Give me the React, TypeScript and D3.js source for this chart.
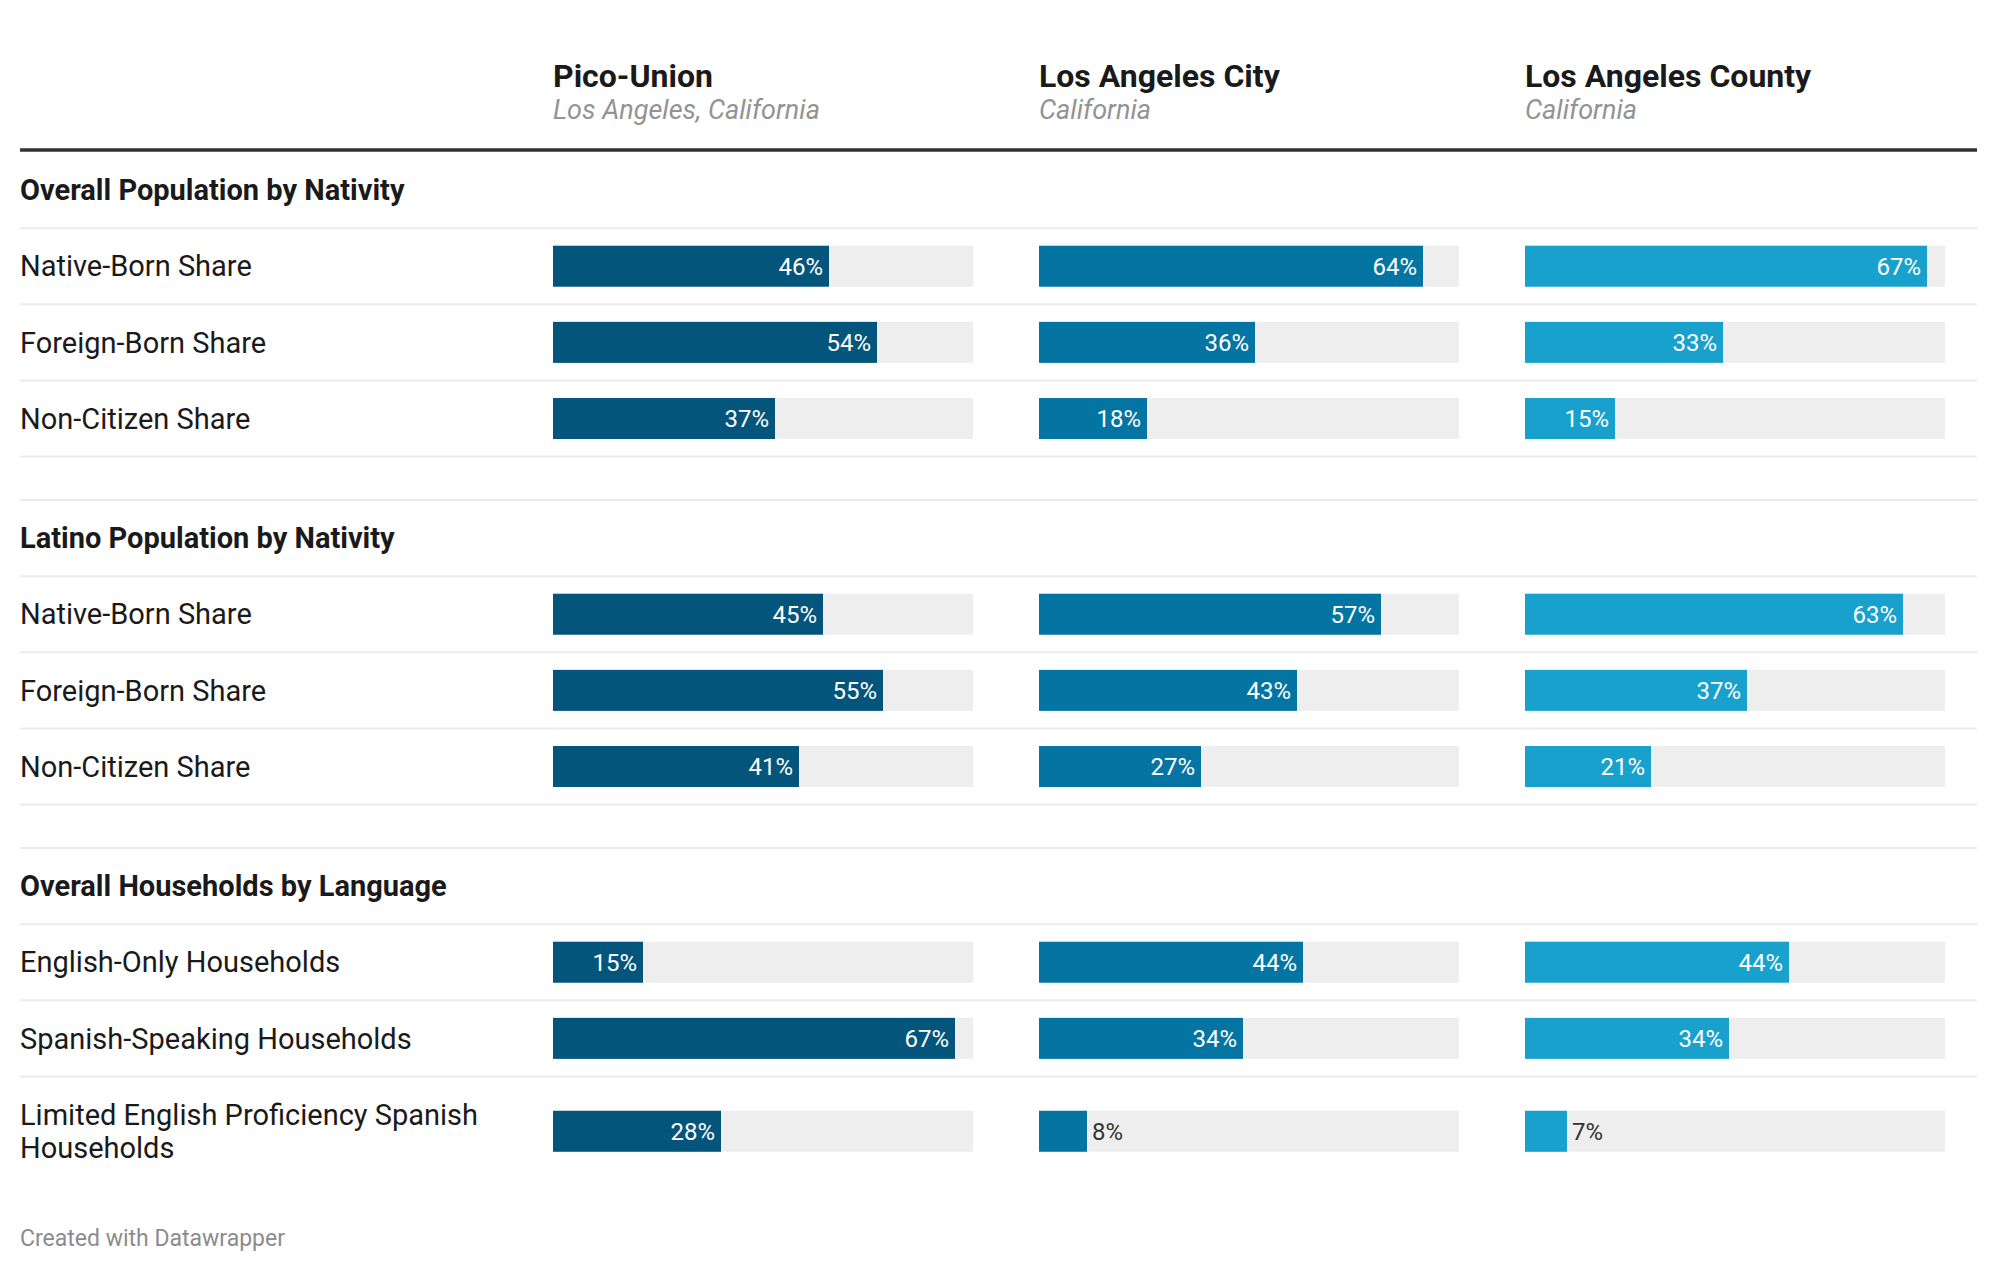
import React from 'react';
import * as d3 from 'd3';

// columns (places)
const places = ["Pico-Union", "Los Angeles City", "Los Angeles County"];
const placeSubtitles = ["Los Angeles, California", "California", "California"];
const placeColors = ["#03557c", "#0475a2", "#19a1cd"];

// row groups
const sections = [
  "Overall Population by Nativity",
  "Latino Population by Nativity",
  "Overall Households by Language",
];
const sectionRows = [
  ["Native-Born Share", "Foreign-Born Share", "Non-Citizen Share"],
  ["Native-Born Share", "Foreign-Born Share", "Non-Citizen Share"],
  ["English-Only Households", "Spanish-Speaking Households", "Limited English Proficiency Spanish Households"],
];

// values in %, one array per place, rows in order
const picoUnion = [46, 54, 37, 45, 55, 41, 15, 67, 28];
const laCity = [64, 36, 18, 57, 43, 27, 44, 34, 8];
const laCounty = [67, 33, 15, 63, 37, 21, 44, 34, 7];
const values = [picoUnion, laCity, laCounty];

const W = 1999, H = 1274;
const left = 20, right = 1977;
const FONT = "Roboto, 'Noto Sans', sans-serif";

// crude word wrap for long row labels
function wrap(label: string, maxChars: number) {
  const words = label.split(" ");
  const lines: string[] = [];
  let cur = "";
  words.forEach(w => {
    if ((cur + " " + w).trim().length > maxChars && cur) {
      lines.push(cur);
      cur = w;
    } else cur = (cur + " " + w).trim();
  });
  if (cur) lines.push(cur);
  return lines;
}

export default function App() {
  const colX = d3.scaleBand<string>().domain(places).range([553, 1945]).paddingInner(0.1358).paddingOuter(0);
  const bw = colX.bandwidth();
  const x = d3.scaleLinear().domain([0, 70]).range([0, bw]);

  const headerLineY = 150;
  const titleH = 76.15, rowH = 76.15, spacer = 43.4, lineGap = 33.5, barH = 41;

  // layout rows
  type Item = { kind: 'title' | 'row'; y0: number; y1: number; text: string; idx?: number; last?: boolean };
  const items: Item[] = [];
  let y = 152;
  let k = 0;
  sections.forEach((s, si) => {
    items.push({ kind: 'title', y0: y, y1: y + titleH, text: s });
    y += titleH;
    sectionRows[si].forEach((r, ri) => {
      const lines = wrap(r, 36);
      const h = rowH + (lines.length - 1) * lineGap;
      items.push({ kind: 'row', y0: y, y1: y + h, text: r, idx: k, last: si === sections.length - 1 && ri === sectionRows[si].length - 1 });
      y += h;
      k++;
    });
    y += spacer;
  });

  return (
    <svg width={W} height={H} style={{ position: 'absolute', left: 0, top: 0, background: '#fff' }} fontFamily={FONT}>
      {/* header */}
      {places.map((p, i) => (
        <g key={p} transform={`translate(${colX(p)},0)`}>
          <text y={87} fontSize={32} fontWeight={700} fill="#1a1a1a">{p}</text>
          <text y={119} fontSize={27} fontStyle="italic" fill="#939393">{placeSubtitles[i]}</text>
        </g>
      ))}
      <line x1={left} x2={right} y1={headerLineY} y2={headerLineY} stroke="#333" strokeWidth={3.5} />

      {items.map((it, n) => {
        const cy = (it.y0 + it.y1) / 2;
        const borders = (
          <>
            {it.kind === 'title' && n > 0 && <line x1={left} x2={right} y1={it.y0} y2={it.y0} stroke="#ebebeb" strokeWidth={2} />}
            {!it.last && <line x1={left} x2={right} y1={it.y1} y2={it.y1} stroke="#ebebeb" strokeWidth={2} />}
          </>
        );
        if (it.kind === 'title') {
          return (
            <g key={n}>
              {borders}
              <text x={left} y={cy} dy="0.35em" fontSize={29} fontWeight={700} fill="#1a1a1a">{it.text}</text>
            </g>
          );
        }
        const lines = wrap(it.text, 36);
        return (
          <g key={n}>
            {borders}
            <text x={left} y={cy - ((lines.length - 1) * lineGap) / 2} fontSize={29} fill="#1a1a1a">
              {lines.map((l, li) => (
                <tspan key={li} x={left} dy={li === 0 ? "0.35em" : lineGap}>{l}</tspan>
              ))}
            </text>
            {places.map((p, pi) => {
              const v = values[pi][it.idx!];
              const w = x(v);
              const inside = w > 62;
              return (
                <g key={p} transform={`translate(${colX(p)},${cy - barH / 2})`}>
                  <rect width={bw} height={barH} fill="#eeeeee" />
                  <rect width={w} height={barH} fill={placeColors[pi]} />
                  <text
                    x={inside ? w - 6 : w + 5}
                    y={barH / 2}
                    dy="0.35em"
                    fontSize={24}
                    textAnchor={inside ? 'end' : 'start'}
                    fill={inside ? '#fff' : '#333'}
                  >{v}%</text>
                </g>
              );
            })}
          </g>
        );
      })}

      <text x={left} y={1246} fontSize={23} fill="#8c8c8c">Created with Datawrapper</text>
    </svg>
  );
}
